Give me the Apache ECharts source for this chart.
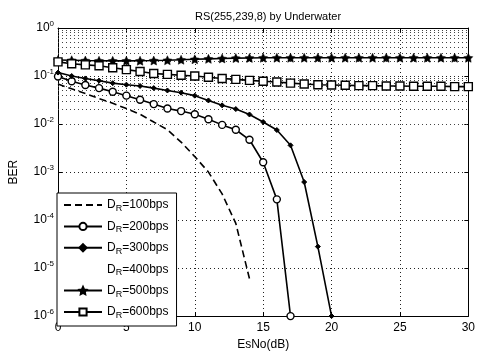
<!DOCTYPE html>
<html>
<head>
<meta charset="utf-8">
<script src="https://cdn.jsdelivr.net/npm/echarts@6/dist/echarts.min.js"></script>
<style>html,body{margin:0;padding:0;background:#fff;}#c{width:478px;height:356px;}</style>
</head>
<body>
<div id="c"></div>
<script>
// ---- data ----
var seriesNames = ['100bps', '200bps', '300bps', '400bps', '500bps', '600bps'];
var x100 = [0,1,2,3,4,5,6,7,8,9,10,11,12,13,14];
var ber100 = [0.068,0.054,0.043,0.034,0.027,0.021,0.016,0.011,0.0076,0.0042,0.0021,0.001,3.5e-4,8.5e-5,6e-6];
var x200 = [0,1,2,3,4,5,6,7,8,9,10,11,12,13,14,15,16,17];
var ber200 = [0.098,0.078,0.065,0.056,0.047,0.039,0.032,0.026,0.021,0.0186,0.016,0.0126,0.0096,0.0076,0.0047,0.0016,2.7e-4,1e-6];
var x300 = [0,1,2,3,4,5,6,7,8,9,10,11,12,13,14,15,16,17,18,19,20];
var ber300 = [0.118,0.1,0.089,0.08,0.071,0.066,0.062,0.056,0.05,0.045,0.039,0.031,0.0245,0.0205,0.0158,0.011,0.0075,0.0036,6.2e-4,2.8e-5,1e-6];
var x400 = [];
var ber400 = [];
var x500 = [0,1,2,3,4,5,6,7,8,9,10,11,12,13,14,15,16,17,18,19,20,21,22,23,24,25,26,27,28,29,30];
var ber500 = [0.215,0.213,0.21,0.208,0.207,0.207,0.208,0.21,0.213,0.218,0.223,0.228,0.232,0.236,0.238,0.24,0.24,0.24,0.24,0.24,0.24,0.24,0.24,0.24,0.24,0.24,0.24,0.24,0.24,0.24,0.24];
var x600 = [0,1,2,3,4,5,6,7,8,9,10,11,12,13,14,15,16,17,18,19,20,21,22,23,24,25,26,27,28,29,30];
var ber600 = [0.197,0.18,0.171,0.164,0.149,0.136,0.124,0.113,0.108,0.104,0.1,0.094,0.089,0.085,0.081,0.078,0.075,0.071,0.068,0.066,0.065,0.064,0.063,0.063,0.062,0.062,0.061,0.061,0.061,0.06,0.06];
var xTicks = [0,5,10,15,20,25,30];

function pairs(xs, ys){ var o=[]; for (var i=0;i<xs.length;i++) o.push([xs[i], ys[i]]); return o; }

// minor log gridlines (2..9 per decade)
var minorLines = [];
for (var d=-6; d<0; d++) for (var k=2; k<=9; k++) minorLines.push({yAxis: k*Math.pow(10,d)});

var FONT = 'Liberation Sans, Arial, sans-serif';
var black = '#000';
function legendName(n){ return '{n|D}{sub|R}{n|=' + n + '}'; }

var chart = echarts.init(document.getElementById('c'), null, {renderer:'canvas'});
var common = { type:'line', xAxisIndex:0, yAxisIndex:0, silent:true, animation:false, z:3 };
function mk(o){ var r={}; for (var k in common) r[k]=common[k]; for (var k2 in o) r[k2]=o[k2]; return r; }

var legendData = seriesNames.map(function(n){
  if (n === '100bps') return { name:n, itemStyle:{ opacity:0 } };
  if (n === '400bps') return { name:n, itemStyle:{ opacity:0 }, lineStyle:{ opacity:0 } };
  return { name:n };
});

chart.setOption({
  backgroundColor:'#fff',
  animation:false,
  title:{ text:'RS(255,239,8) by Underwater', left:263, top:6, textAlign:'center',
    textStyle:{ fontFamily:FONT, fontSize:11, fontWeight:'normal', color:black } },
  grid:{ left:57, right:8, top:28, bottom:30, containLabel:false },
  legend:{
    left:57, bottom:30, orient:'vertical', backgroundColor:'#fff', borderColor:black, borderWidth:1,
    borderRadius:0, padding:[6,8,6,6], itemGap:7.4, itemWidth:38, itemHeight:9,
    data: legendData,
    formatter: legendName,
    textStyle:{ fontFamily:FONT, color:black, fontSize:12,
      rich:{ n:{ fontFamily:FONT, fontSize:12, color:black }, sub:{ fontFamily:FONT, fontSize:9, color:black, padding:[7,0,0,0] } } },
    z:10
  },
  xAxis:[{
    type:'value', min:0, max:30, interval:5,
    name:'EsNo(dB)', nameLocation:'middle', nameGap:20,
    nameTextStyle:{ fontFamily:FONT, fontSize:12, color:black },
    axisLine:{ show:true, onZero:false, lineStyle:{ color:black, width:1 } },
    axisTick:{ show:true, inside:true, length:4, lineStyle:{ color:black } },
    axisLabel:{ fontFamily:FONT, fontSize:12, color:black, margin:6, formatter:function(v){ return xTicks.indexOf(v)>=0 ? String(v) : ''; } },
    splitLine:{ show:true, lineStyle:{ color:'#222', type:[1,3], width:1 } }
  },{
    type:'value', min:0, max:30, interval:5, position:'top',
    axisLine:{ show:true, onZero:false, lineStyle:{ color:black, width:1 } },
    axisTick:{ show:true, inside:true, length:4, lineStyle:{ color:black } },
    axisLabel:{ show:false }, splitLine:{ show:false }
  }],
  yAxis:[{
    type:'log', logBase:10, min:1e-6, max:1,
    name:'BER', nameLocation:'middle', nameGap:38, nameRotate:90,
    nameTextStyle:{ fontFamily:FONT, fontSize:12, color:black },
    axisLine:{ show:true, onZero:false, lineStyle:{ color:black, width:1 } },
    axisTick:{ show:true, inside:true, length:4, lineStyle:{ color:black } },
    axisLabel:{ fontFamily:FONT, color:black, margin:4,
      formatter:function(v){ var e=Math.round(Math.log(v)/Math.LN10); return '{b|10}{s|' + e + '}'; },
      rich:{ b:{ fontFamily:FONT, fontSize:12, color:black }, s:{ fontFamily:FONT, fontSize:8, color:black, padding:[0,0,9,0] } } },
    splitLine:{ show:true, lineStyle:{ color:'#222', type:[1,3], width:1 } }
  },{
    type:'log', logBase:10, min:1e-6, max:1, position:'right',
    axisLine:{ show:true, onZero:false, lineStyle:{ color:black, width:1 } },
    axisTick:{ show:true, inside:true, length:4, lineStyle:{ color:black } },
    axisLabel:{ show:false }, splitLine:{ show:false }
  }],
  series:[
    mk({ name:'100bps', data:pairs(x100, ber100), symbol:'none', z:3,
      lineStyle:{ color:black, width:1.6, type:[7,4] }, itemStyle:{ color:black },
      markLine:{ silent:true, symbol:'none', animation:false, label:{show:false}, z:1,
        lineStyle:{ color:'#444', type:[1,3], width:1 }, data:minorLines } }),
    mk({ name:'200bps', data:pairs(x200, ber200), symbol:'circle', symbolSize:7,
      lineStyle:{ color:black, width:1.6 }, itemStyle:{ color:'#fff', borderColor:black, borderWidth:1.4 } }),
    mk({ name:'300bps', data:pairs(x300, ber300), symbol:'diamond', symbolSize:5,
      lineStyle:{ color:black, width:1.6 }, itemStyle:{ color:black, borderColor:black, borderWidth:1 } }),
    mk({ name:'400bps', data:pairs(x400, ber400), symbol:'none',
      lineStyle:{ color:black, width:0, opacity:0 }, itemStyle:{ color:'#fff', opacity:0 } }),
    mk({ name:'500bps', data:pairs(x500, ber500), symbol:'path://M0,-10 L2.9,-4 L9.5,-3.1 L4.8,1.5 L5.9,8.1 L0,5 L-5.9,8.1 L-4.8,1.5 L-9.5,-3.1 L-2.9,-4 Z', symbolSize:9,
      lineStyle:{ color:black, width:1.6 }, itemStyle:{ color:black, borderColor:black, borderWidth:0.5 } }),
    mk({ name:'600bps', data:pairs(x600, ber600), symbol:'rect', symbolSize:8,
      lineStyle:{ color:black, width:1.6 }, itemStyle:{ color:'#fff', borderColor:black, borderWidth:1.4 } })
  ]
});
</script>
</body>
</html>
